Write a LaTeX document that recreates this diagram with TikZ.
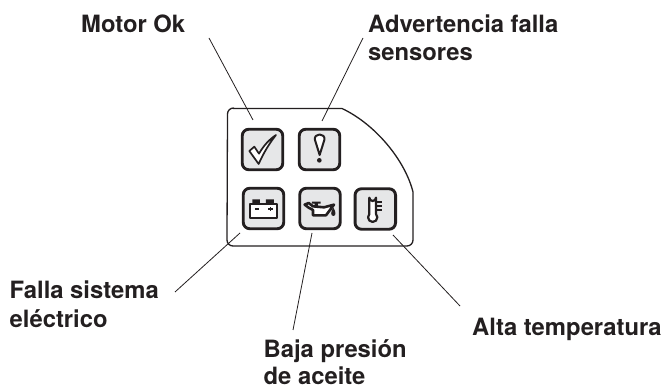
\documentclass[tikz,border=0pt]{standalone}
\usepackage{fontspec}
\setmainfont{TeX Gyre Heros}
\definecolor{ink}{HTML}{231F20}
\definecolor{btn}{HTML}{E6E7E8}
\tikzset{
  lbl/.style={anchor=base west,inner sep=0pt,text=ink,font=\fontsize{23.8}{26}\selectfont\bfseries},
  btnbox/.style={draw=ink,fill=btn,line width=2.9pt,rounded corners=6.5pt,minimum width=40.5pt,minimum height=40.5pt,inner sep=0pt},
  leader/.style={draw=ink,line width=0.8pt},
  icon/.style={draw=ink,line width=1.7pt,line join=round},
  zoomed/.style={shift={(210,90)},x=0.3333pt,y=-0.3333pt}
}
\begin{document}
\begin{tikzpicture}[x=1pt,y=-1pt]
\useasboundingbox (0,0) rectangle (665,390);
% panel
\draw[ink,line width=1.3pt,line join=round]
  (233,108.5) -- (342,108.5) .. controls (375,124) and (405,160) .. (413,192)
  -- (413,240) arc[start angle=0,end angle=90,x radius=6pt,y radius=-6pt]
  -- (233,246) arc[start angle=90,end angle=180,x radius=6pt,y radius=-6pt]
  -- (227.5,114) arc[start angle=180,end angle=270,x radius=6pt,y radius=-6pt] -- cycle;
% buttons
\node[btnbox] (check) at (262.5,149.5) {};
\node[btnbox] (warn) at (319.5,149.5) {};
\node[btnbox] (batt) at (263.5,208.5) {};
\node[btnbox] (oil) at (320,208.5) {};
\node[btnbox] (temp) at (375.3,209) {};
% icons
\begin{scope}[zoomed]
  % check
  \draw[icon,fill=white] (118,183) -- (133,170) -- (147,191) .. controls (160,168) and (178,148) .. (198,135)
    .. controls (178,160) and (160,190) .. (146,222) -- cycle;
  % warning
  \draw[icon,line width=2pt,fill=white] (329,195) -- (315,150) .. controls (310,128) and (348,128) .. (343,150) -- cycle;
  \fill[ink] (328,211) circle[radius=7];
  % battery
  \draw[icon,fill=white] (120,342) rectangle (202,383);
  \fill[ink] (127,328) rectangle (150,343) (168,328) rectangle (192,343);
  \draw[ink,line width=1.3pt] (135,357) -- (146,357) (175,357) -- (188,357) (181.5,351) -- (181.5,363);
  % oil can
  \draw[icon,line width=2.6pt,fill=white] (284,344) -- (296,339) -- (309,349) -- (342,352) -- (372,344) -- (348,376) -- (309,376) -- (309,360) -- (296,353) -- cycle;
  \fill[ink] (306,335) rectangle (332,341) (314,341) rectangle (324,350);
  \fill[ink] (370,353) .. controls (362,364) and (361,378) .. (370,378) .. controls (379,378) and (378,364) .. (370,353) -- cycle;
  % thermometer
  \draw[icon,line width=2.2pt,fill=white] (478,372) -- (478,323) arc[start angle=180,end angle=360,x radius=10,y radius=-10] -- (498,372)
    arc[start angle=45,end angle=-225,x radius=14,y radius=-14] -- cycle;
  \draw[ink,line width=2.2pt] (498,335) -- (517,335) (498,347) -- (517,347) (498,359) -- (517,359);
\end{scope}
% labels
\node[lbl] (lmotor) at (81,33) {Motor Ok};
\node[lbl] (ladv) at (368,33) {Advertencia falla};
\node[lbl] (lsens) at (368,61) {sensores};
\node[lbl] (lfalla) at (9.5,299) {Falla sistema};
\node[lbl] (lelec) at (9.5,328) {eléctrico};
\node[lbl] (lbaja) at (263.5,358) {Baja presión};
\node[lbl] (lace) at (263.5,385) {de aceite};
\node[lbl] (lalta) at (472,336) {Alta temperatura};
% leader ends
\coordinate (a1) at (209,38); \coordinate (a2) at (253,120);
\coordinate (b1) at (363,38); \coordinate (b2) at (322,121);
\coordinate (c1) at (175,292); \coordinate (c2) at (240,233);
\coordinate (d1) at (293,330); \coordinate (d2) at (312,233);
\coordinate (e1) at (460,306); \coordinate (e2) at (393,235);
\draw[leader] (a1) -- (a2) (b1) -- (b2) (c1) -- (c2) (d1) -- (d2) (e1) -- (e2);
\end{tikzpicture}
\end{document}
